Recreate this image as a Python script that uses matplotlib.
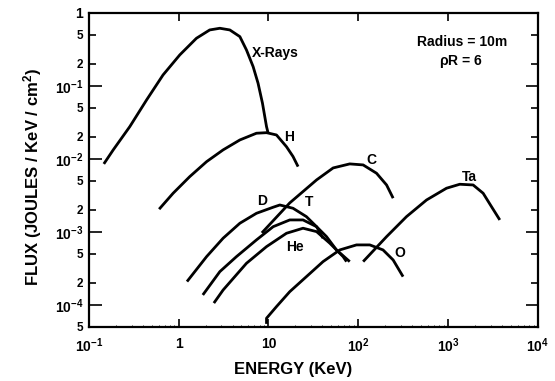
import matplotlib
matplotlib.use("Agg")
import matplotlib.pyplot as plt
from matplotlib.ticker import FixedLocator, NullFormatter

plt.rcParams['font.family'] = ['Liberation Sans', 'DejaVu Sans']
plt.rcParams['font.weight'] = 'bold'
plt.rcParams['mathtext.fontset'] = 'custom'
plt.rcParams['mathtext.rm'] = 'Liberation Sans:bold'
plt.rcParams['mathtext.bf'] = 'Liberation Sans:bold'
plt.rcParams['mathtext.it'] = 'Liberation Sans:bold'

# ---- data (energy in keV, flux in J/keV/cm^2) ----
xray_E = [0.147, 0.187, 0.286, 0.440, 0.671, 1.03, 1.58, 2.22, 2.88, 3.72, 4.81, 5.70, 6.76, 7.67, 8.59, 9.53, 9.94]
xray_F = [0.00855, 0.0133, 0.0277, 0.0643, 0.1415, 0.266, 0.450, 0.585, 0.617, 0.585, 0.474, 0.311, 0.184, 0.109, 0.058, 0.0277, 0.0225]

h_E = [0.607, 0.869, 1.33, 2.05, 3.13, 4.81, 7.36, 9.53, 12.3, 15.9, 18.8, 21.4]
h_F = [0.00205, 0.00339, 0.00572, 0.00918, 0.0133, 0.0182, 0.0225, 0.0229, 0.0213, 0.0147, 0.0108, 0.00785]

c_E = [8.45, 17.3, 34.4, 52.6, 80.5, 113.5, 160, 207, 245]
c_F = [0.00097, 0.00250, 0.00516, 0.00753, 0.00855, 0.00828, 0.00637, 0.00440, 0.00290]

d_E = [1.24, 2.05, 3.13, 4.81, 7.36, 11.3, 13.4, 18.8, 26.5, 34.4, 40.6]
d_F = [0.000209, 0.000459, 0.000820, 0.001315, 0.00180, 0.00218, 0.00234, 0.00211, 0.00162, 0.00118, 0.000820]

t_E = [1.86, 2.88, 4.41, 7.36, 11.3, 17.3, 24.3, 34.4, 44.4, 57.3, 80.5]
t_F = [0.000137, 0.000286, 0.000459, 0.000777, 0.00118, 0.00146, 0.00146, 0.00118, 0.000862, 0.000567, 0.000392]

he_E = [2.47, 3.13, 5.70, 9.53, 15.9, 24.3, 34.4, 48.3, 67.9, 74.1]
he_F = [0.000106, 0.000160, 0.000372, 0.000629, 0.000959, 0.001124, 0.00101, 0.000700, 0.000459, 0.000392]

o_E = [9.53, 9.53, 12.3, 17.3, 26.5, 40.6, 62.4, 95.7, 134.6, 189, 245, 316]
o_F = [5.5e-5, 6.57e-5, 9.48e-5, 0.000152, 0.000244, 0.000392, 0.000567, 0.000664, 0.000664, 0.000567, 0.000413, 0.000244]

ta_E = [113.5, 207, 345, 577, 962, 1352, 1905, 2462, 3050, 3776]
ta_F = [0.000392, 0.000862, 0.00162, 0.00274, 0.00397, 0.00450, 0.00440, 0.00339, 0.00222, 0.00146]

x_ticks = [0.1, 1, 10, 100, 1000, 10000]
x_ticklabels = [r'$10^{-1}$', '1', '10', r'$10^{2}$', r'$10^{3}$', r'$10^{4}$']
y_major = [1e-4, 1e-3, 1e-2, 1e-1, 1]
y_major_labels = [r'$10^{-4}$', r'$10^{-3}$', r'$10^{-2}$', r'$10^{-1}$', '1']
y_minor = [5e-5, 2e-4, 5e-4, 2e-3, 5e-3, 2e-2, 5e-2, 2e-1, 5e-1]
y_minor_labels = ['5', '2', '5', '2', '5', '2', '5', '2', '5']

series = [(xray_E, xray_F), (h_E, h_F), (c_E, c_F), (d_E, d_F), (t_E, t_F),
          (he_E, he_F), (o_E, o_F), (ta_E, ta_F)]

fig = plt.figure(figsize=(5.55, 3.81), dpi=100)
ax = fig.add_axes([0.160, 0.142, 0.809, 0.824])
ax.set_xscale('log')
ax.set_yscale('log')
ax.set_xlim(0.1, 10000)
ax.set_ylim(5e-5, 1)

for E, F in series:
    ax.plot(E, F, color='black', lw=2.0, solid_capstyle='butt',
            solid_joinstyle='round')

# curve labels
fs = 10
ax.text(6.53, 0.283, 'X-Rays', fontsize=fs, fontweight='bold', ha='left', va='center')
ax.text(16.9, 0.0200, 'H', fontsize=fs, fontweight='bold', ha='center', va='center')
ax.text(141.6, 0.00969, 'C', fontsize=fs, fontweight='bold', ha='center', va='center')
ax.text(1750, 0.00567, 'Ta', fontsize=fs, fontweight='bold', ha='center', va='center')
ax.text(8.45, 0.00266, 'D', fontsize=fs, fontweight='bold', ha='center', va='center')
ax.text(28.2, 0.00258, 'T', fontsize=fs, fontweight='bold', ha='center', va='center')
ax.text(19.7, 0.000623, 'He', fontsize=fs, fontweight='bold', ha='center', va='center')
ax.text(290, 0.000515, 'O', fontsize=fs, fontweight='bold', ha='center', va='center')

ax.text(0.831, 0.908, 'Radius = 10m', transform=ax.transAxes, fontsize=fs,
        fontweight='bold', ha='center', va='center')
ax.text(0.829, 0.844, r'$\rho$R = 6', transform=ax.transAxes, fontsize=fs,
        fontweight='bold', ha='center', va='center')

# ticks
ax.xaxis.set_major_locator(FixedLocator(x_ticks))
ax.set_xticklabels(x_ticklabels)
ax.xaxis.set_minor_locator(FixedLocator([m * 10.0 ** k for k in range(-1, 4) for m in range(2, 10)]))
ax.xaxis.set_minor_formatter(NullFormatter())

ax.yaxis.set_major_locator(FixedLocator(y_major))
ax.set_yticklabels(y_major_labels)
ax.yaxis.set_minor_locator(FixedLocator(y_minor))
ax.set_yticklabels(y_minor_labels, minor=True)

ax.tick_params(axis='x', which='major', direction='in', length=6, width=1.2,
               top=True, bottom=True, labelsize=10, pad=7)
ax.tick_params(axis='x', which='minor', direction='in', length=1.5, width=0.6,
               top=False, bottom=True)
ax.tick_params(axis='y', which='major', direction='in', length=9, width=1.2,
               left=True, right=True, labelsize=10, pad=4)
ax.tick_params(axis='y', which='minor', direction='in', length=5, width=1.2,
               left=True, right=True, labelsize=8.5, pad=4)

for lbl in ax.get_xticklabels() + ax.get_yticklabels() + ax.get_yticklabels(minor=True):
    lbl.set_fontweight('bold')

for s in ax.spines.values():
    s.set_linewidth(1.6)

fig.text(0.528, 0.031, 'ENERGY (KeV)', fontsize=12, fontweight='bold',
         ha='center', va='center')
fig.text(0.058, 0.535, r'FLUX (JOULES / KeV / cm$^{2}$)', fontsize=12,
         fontweight='bold', ha='center', va='center', rotation=90)

fig.savefig('out.png', dpi=100)
